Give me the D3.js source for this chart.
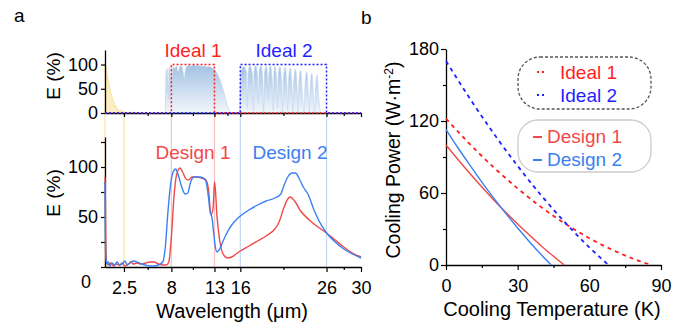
<!DOCTYPE html>
<html><head><meta charset="utf-8">
<script src="https://cdn.jsdelivr.net/npm/d3@7"></script>
<style>body{margin:0;background:#fff}</style>
</head><body><div id="chart"></div>
<script>
// ---- data ----
var wlTicks = [2.5, 8, 13, 16, 26, 30];
var wlMinor = [5.25, 10.5, 14.5, 21, 28];
var windowLines = [[0.3, "#f8e2a0"], [2.5, "#f8e2a0"], [8, "#f6c4c4"], [13, "#f6c4c4"], [16, "#c4d6f4"], [26, "#c4d6f4"]];

var solar = [[0.3,100],[0.4,97],[0.5,88],[0.6,76],[0.7,66],[0.8,55],[0.9,47],[1.0,40],[1.1,34],[1.2,26],[1.3,24],
  [1.4,12],[1.5,16],[1.6,14],[1.7,10],[1.8,5],[1.9,3],[2.0,6],[2.2,5],[2.4,3],[2.6,2],[2.8,1],[3.0,1],[3.3,2],[3.6,1],[4.0,1],[4.2,0]];

var atmosphere = [[7.3,0],[7.4,90],[7.5,40],[7.6,92],[7.7,30],[7.8,94],[7.9,60],[8.0,95],[8.1,70],[8.2,96],[8.4,92],[8.6,97],
  [8.8,85],[9.0,97],[9.2,96],[9.4,80],[9.5,70],[9.6,85],[9.8,96],[10.0,98],[10.3,97],[10.6,99],[10.9,97],[11.2,98],[11.5,96],
  [11.8,97],[12.1,95],[12.4,96],[12.7,93],[13.0,90],[13.3,82],[13.6,70],[13.9,55],[14.2,35],[14.5,15],[14.8,3],[15.0,0],
  [15.9,0],[16.0,60],[16.1,88],[16.4,96],[16.7,85],[16.8,10],[16.9,80],[17.1,97],[17.4,80],[17.5,5],[17.6,85],[17.8,98],
  [18.0,75],[18.1,20],[18.2,88],[18.4,97],[18.6,70],[18.7,0],[18.8,82],[19.0,96],[19.2,60],[19.25,30],[19.3,75],[19.5,97],
  [19.7,65],[19.8,5],[19.9,80],[20.0,96],[20.2,70],[20.3,10],[20.4,78],[20.6,95],[20.8,60],[20.9,0],[21.0,72],[21.2,94],
  [21.4,55],[21.5,5],[21.6,70],[21.8,93],[22.0,50],[22.1,0],[22.2,65],[22.4,90],[22.6,45],[22.7,0],[22.8,60],[23.0,88],
  [23.2,40],[23.4,0],[23.5,55],[23.7,85],[23.9,35],[24.0,0],[24.1,50],[24.3,82],[24.5,30],[24.6,0],[24.7,40],[24.9,78],
  [25.1,30],[25.3,0]];

var ideal1 = [[0.3,0],[8,0],[8,100],[13,100],[13,0],[30,0]];
var ideal2 = [[0.3,0],[16,0],[16,100],[26,100],[26,0],[30,0]];

var design1 = [[0.3,90],[0.35,60],[0.4,20],[0.5,5],[0.7,2],[1.0,4],[1.3,1],[1.6,3],[2.0,2],[2.3,4],[2.6,1],[3.0,3],[3.3,5],
  [3.6,3],[4.0,4],[4.5,3],[5.0,4],[5.5,5],[6.0,5],[6.5,3],[7.0,2],[7.4,2],[7.7,5],[8.0,30],[8.3,70],[8.6,92],[9.0,99],
  [9.3,95],[9.7,88],[10.0,87],[10.4,90],[10.9,90],[11.5,89],[12.0,87],[12.3,78],[12.6,52],[12.85,60],[13.0,85],[13.1,78],
  [13.3,50],[13.6,27],[14.0,13],[14.5,9],[15.0,10],[15.5,13],[16.0,16],[17.0,21],[18.0,26],[19.0,31],[20.0,38],[20.5,45],
  [21.0,58],[21.5,68],[21.8,70],[22.3,66],[23.0,56],[24.0,47],[25.0,40],[26.0,34],[27.0,27],[28.0,20],[29.0,14],[30.0,10]];

var design2 = [[0.3,85],[0.33,40],[0.4,10],[0.5,3],[0.7,5],[0.9,1],[1.1,4],[1.4,2],[1.7,5],[2.0,2],[2.3,3],[2.6,6],[2.9,2],
  [3.2,4],[3.6,6],[4.0,5],[4.5,3],[5.0,2],[5.5,1],[6.0,1],[6.5,2],[7.0,5],[7.3,20],[7.6,55],[7.9,82],[8.2,95],[8.5,98],
  [8.8,92],[9.2,80],[9.6,73],[9.9,74],[10.2,84],[10.6,90],[11.2,90],[11.7,89],[12.0,86],[12.3,70],[12.5,55],[12.7,50],
  [12.9,35],[13.1,20],[13.3,15],[13.6,18],[14.0,26],[14.5,35],[15.0,42],[15.5,47],[16.0,51],[17.0,57],[18.0,62],[19.0,66],
  [20.0,69],[20.7,73],[21.0,80],[21.5,90],[22.0,94],[22.4,94],[22.8,89],[23.3,80],[23.9,72],[24.5,58],[25.2,45],[26.0,34],
  [27.0,25],[28.0,18],[29.0,13],[30.0,9]];

var tempTicks = [0, 30, 60, 90], tempMinor = [15, 45, 75];
var powerTicks = [0, 60, 120, 180], powerMinor = [30, 90, 150];
var coolIdeal1 = [[0,122],[10,100.7],[20,81.3],[30,63.8],[40,48],[50,34.3],[60,22.3],[70,12.3],[80,4],[86,0]];
var coolIdeal2 = [[0,170],[10,138.7],[20,109.5],[30,82.5],[40,57.7],[50,35.1],[60,14.7],[68,0]];
var coolDesign1 = [[0,100],[5,87.9],[10,76.2],[15,65],[20,54.2],[25,43.9],[30,34.1],[35,24.7],[40,15.7],[45,7.3],[49.5,0]];
var coolDesign2 = [[0,112.9],[5,97.7],[10,83.2],[15,69.1],[20,55.7],[25,43],[30,30.8],[35,19.2],[40,8.3],[44,0]];

// ---- colours ----
var red1 = "#ff1f1f", blue1 = "#1f1fff", red2 = "#f24848", blue2 = "#3a80f0";
var font = "'Liberation Sans', Arial, sans-serif";

var svg = d3.select("#chart").append("svg").attr("width", 686).attr("height", 323)
  .style("font-family", font);

var defs = svg.append("defs");
var grad = defs.append("linearGradient").attr("id", "atmGrad").attr("x1", 0).attr("y1", 0).attr("x2", 0).attr("y2", 1);
grad.append("stop").attr("offset", "0%").attr("stop-color", "#a3c2e4");
grad.append("stop").attr("offset", "100%").attr("stop-color", "#f2f6fb");

// ---- panel a scales ----
var wl = d3.scaleLinear().domain([0.3, 30]).range([105, 361]);
var eTop = d3.scaleLinear().domain([0, 130]).range([113, 50]);
var eBot = d3.scaleLinear().domain([0, 130]).range([267, 137]);

function styleAxis(g, fs){
  g.attr("font-family", font);
  g.select(".domain").attr("stroke", "#000").attr("stroke-width", 1.3);
  g.selectAll(".tick line").attr("stroke", "#000").attr("stroke-width", 1.2);
  g.selectAll(".tick text").attr("font-size", fs).attr("fill", "#000");
}

// connecting window lines between the two panels
svg.append("g").selectAll("line").data(windowLines).enter().append("line")
  .attr("x1", function(d){ return wl(d[0]); }).attr("x2", function(d){ return wl(d[0]); })
  .attr("y1", eTop(0)).attr("y2", eBot(0))
  .attr("stroke", function(d){ return d[1]; }).attr("stroke-width", 1.2);

// solar spectrum + atmospheric window
var areaTop = d3.area().x(function(d){ return wl(d[0]); }).y0(eTop(0)).y1(function(d){ return eTop(d[1]); });
svg.append("path").datum(solar).attr("d", areaTop.curve(d3.curveLinear))
  .attr("fill", "#fbeab5").attr("fill-opacity", 0.8).attr("stroke", "#f6dc8e").attr("stroke-width", 0.8);
svg.append("path").datum(atmosphere).attr("d", areaTop.curve(d3.curveMonotoneX))
  .attr("fill", "url(#atmGrad)").attr("stroke", "#bcd3ec").attr("stroke-width", 0.6);

// top axes
var gx1 = svg.append("g").attr("transform", "translate(0," + eTop(0) + ")")
  .call(d3.axisBottom(wl).tickValues(wlTicks).tickFormat("").tickSize(4).tickSizeOuter(0));
styleAxis(gx1, 17);
var gx1m = svg.append("g").attr("transform", "translate(0," + eTop(0) + ")")
  .call(d3.axisBottom(wl).tickValues(wlMinor).tickFormat("").tickSize(3).tickSizeOuter(0));
styleAxis(gx1m, 17); gx1m.select(".domain").remove();

var gy1 = svg.append("g").attr("transform", "translate(105,0)")
  .call(d3.axisLeft(eTop).tickValues([0, 50, 100]).tickSize(4).tickPadding(3).tickSizeOuter(0));
styleAxis(gy1, 18);

// ideal emitters (dotted)
var lineTop = d3.line().x(function(d){ return wl(d[0]); }).y(function(d){ return eTop(d[1]); });
svg.append("path").datum(ideal1).attr("d", lineTop).attr("fill", "none")
  .attr("stroke", red1).attr("stroke-width", 1.5).attr("stroke-dasharray", "2,2");
svg.append("path").datum(ideal2).attr("d", lineTop).attr("fill", "none")
  .attr("stroke", blue1).attr("stroke-width", 1.5).attr("stroke-dasharray", "2,2");

svg.append("text").attr("x", 193).attr("y", 57).attr("text-anchor", "middle")
  .attr("font-size", 19).attr("fill", red1).text("Ideal 1");
svg.append("text").attr("x", 284).attr("y", 57).attr("text-anchor", "middle")
  .attr("font-size", 19).attr("fill", blue1).text("Ideal 2");

// bottom panel
var gx2 = svg.append("g").attr("transform", "translate(0," + eBot(0) + ")")
  .call(d3.axisBottom(wl).tickValues(wlTicks).tickFormat(function(d){ return String(d); })
    .tickSize(5).tickPadding(9).tickSizeOuter(0));
styleAxis(gx2, 18);
var gx2m = svg.append("g").attr("transform", "translate(0," + eBot(0) + ")")
  .call(d3.axisBottom(wl).tickValues(wlMinor).tickFormat("").tickSize(3).tickSizeOuter(0));
styleAxis(gx2m, 18); gx2m.select(".domain").remove();

var gy2 = svg.append("g").attr("transform", "translate(105,0)")
  .call(d3.axisLeft(eBot).tickValues([0, 25, 50, 75, 100, 125])
    .tickFormat(function(d){ return (d === 50 || d === 100) ? d : ""; })
    .tickSize(4).tickPadding(3).tickSizeOuter(0));
styleAxis(gy2, 18);
svg.append("text").attr("x", 86).attr("y", 288).attr("text-anchor", "middle").attr("font-size", 18).text("0");

var lineBot = d3.line().x(function(d){ return wl(d[0]); }).y(function(d){ return eBot(d[1]); }).curve(d3.curveMonotoneX);
svg.append("path").datum(design1).attr("d", lineBot).attr("fill", "none").attr("stroke", red2).attr("stroke-width", 1.4);
svg.append("path").datum(design2).attr("d", lineBot).attr("fill", "none").attr("stroke", blue2).attr("stroke-width", 1.4);

svg.append("text").attr("x", 193).attr("y", 159).attr("text-anchor", "middle")
  .attr("font-size", 19).attr("fill", red2).text("Design 1");
svg.append("text").attr("x", 290).attr("y", 159).attr("text-anchor", "middle")
  .attr("font-size", 19).attr("fill", blue2).text("Design 2");

// axis titles panel a
svg.append("text").attr("transform", "translate(60,76) rotate(-90)").attr("text-anchor", "middle")
  .attr("font-size", 19).text("E (%)");
svg.append("text").attr("transform", "translate(60,193) rotate(-90)").attr("text-anchor", "middle")
  .attr("font-size", 19).text("E (%)");
svg.append("text").attr("x", 232).attr("y", 318).attr("text-anchor", "middle")
  .attr("font-size", 20).text("Wavelength (\u03bcm)");

svg.append("text").attr("x", 14).attr("y", 22).attr("font-size", 19).text("a");
svg.append("text").attr("x", 361).attr("y", 24).attr("font-size", 19).text("b");

// ---- panel b ----
var tx = d3.scaleLinear().domain([0, 90]).range([446, 661]);
var py = d3.scaleLinear().domain([0, 180]).range([265, 49]);

var gbx = svg.append("g").attr("transform", "translate(0," + py(0) + ")")
  .call(d3.axisBottom(tx).tickValues(tempTicks).tickSize(5).tickPadding(9).tickSizeOuter(0));
styleAxis(gbx, 18);
var gbxm = svg.append("g").attr("transform", "translate(0," + py(0) + ")")
  .call(d3.axisBottom(tx).tickValues(tempMinor).tickFormat("").tickSize(3).tickSizeOuter(0));
styleAxis(gbxm, 18); gbxm.select(".domain").remove();

var gby = svg.append("g").attr("transform", "translate(" + tx(0) + ",0)")
  .call(d3.axisLeft(py).tickValues(powerTicks).tickSize(5).tickPadding(2).tickSizeOuter(0));
styleAxis(gby, 18);
var gbym = svg.append("g").attr("transform", "translate(" + tx(0) + ",0)")
  .call(d3.axisLeft(py).tickValues(powerMinor).tickFormat("").tickSize(3).tickSizeOuter(0));
styleAxis(gbym, 18); gbym.select(".domain").remove();

var coolLine = d3.line().x(function(d){ return tx(d[0]); }).y(function(d){ return py(d[1]); }).curve(d3.curveMonotoneX);
svg.append("path").datum(coolIdeal1).attr("d", coolLine).attr("fill", "none")
  .attr("stroke", red1).attr("stroke-width", 1.8).attr("stroke-dasharray", "4,4");
svg.append("path").datum(coolIdeal2).attr("d", coolLine).attr("fill", "none")
  .attr("stroke", blue1).attr("stroke-width", 1.8).attr("stroke-dasharray", "4,4");
svg.append("path").datum(coolDesign1).attr("d", coolLine).attr("fill", "none").attr("stroke", red2).attr("stroke-width", 1.4);
svg.append("path").datum(coolDesign2).attr("d", coolLine).attr("fill", "none").attr("stroke", blue2).attr("stroke-width", 1.4);

svg.append("text").attr("x", 552).attr("y", 316).attr("text-anchor", "middle")
  .attr("font-size", 20).text("Cooling Temperature (K)");
var yl = svg.append("text").attr("transform", "translate(400,160) rotate(-90)").attr("text-anchor", "middle")
  .attr("font-size", 19.5);
yl.append("tspan").text("Cooling Power (W\u00b7m");
yl.append("tspan").attr("font-size", 12).attr("dy", -7).text("-2");
yl.append("tspan").attr("dy", 7).text(")");

// legends
svg.append("rect").attr("x", 518).attr("y", 57).attr("width", 133).attr("height", 52).attr("rx", 22)
  .attr("fill", "none").attr("stroke", "#555").attr("stroke-width", 1.3).attr("stroke-dasharray", "3,2");
svg.append("rect").attr("x", 518).attr("y", 120).attr("width", 133).attr("height", 52).attr("rx", 20)
  .attr("fill", "none").attr("stroke", "#ccc").attr("stroke-width", 1.3);

var legIdeal = [["Ideal 1", red1, 79], ["Ideal 2", blue1, 102]];
var legDesign = [["Design 1", red2, 143], ["Design 2", blue2, 166]];
var li = svg.append("g").selectAll("g").data(legIdeal).enter().append("g");
li.append("line").attr("x1", 537).attr("x2", 546).attr("y1", function(d){ return d[2] - 7; }).attr("y2", function(d){ return d[2] - 7; })
  .attr("stroke", function(d){ return d[1]; }).attr("stroke-width", 2).attr("stroke-dasharray", "2,3");
li.append("text").attr("x", 560).attr("y", function(d){ return d[2]; }).attr("font-size", 19)
  .attr("fill", function(d){ return d[1]; }).text(function(d){ return d[0]; });
var ld = svg.append("g").selectAll("g").data(legDesign).enter().append("g");
ld.append("line").attr("x1", 533).attr("x2", 542).attr("y1", function(d){ return d[2] - 6; }).attr("y2", function(d){ return d[2] - 6; })
  .attr("stroke", function(d){ return d[1]; }).attr("stroke-width", 2);
ld.append("text").attr("x", 547).attr("y", function(d){ return d[2]; }).attr("font-size", 19)
  .attr("fill", function(d){ return d[1]; }).text(function(d){ return d[0]; });
</script>
</body></html>
